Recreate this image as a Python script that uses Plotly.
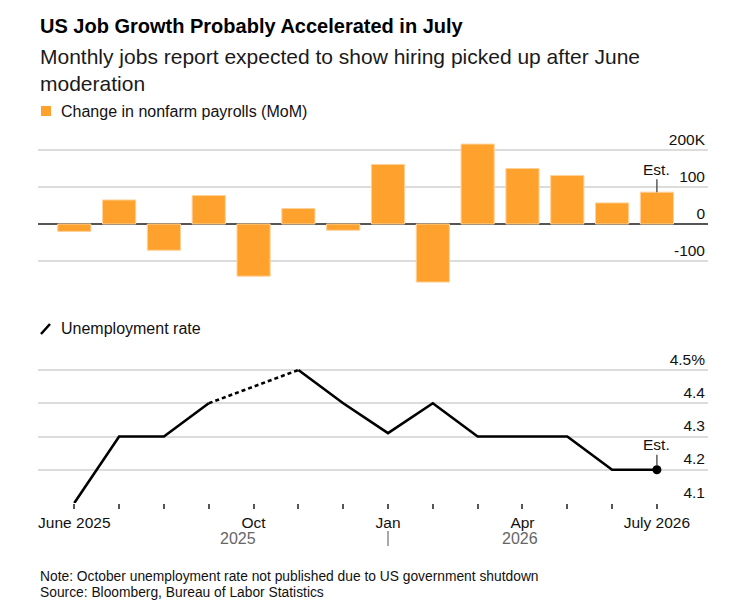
import plotly.graph_objects as go

MONTHS = ["Jun 2025", "Jul 2025", "Aug 2025", "Sep 2025", "Oct 2025", "Nov 2025", "Dec 2025",
          "Jan 2026", "Feb 2026", "Mar 2026", "Apr 2026", "May 2026", "Jun 2026", "Jul 2026"]
PAYROLLS = [-20, 65, -71, 77, -141, 42, -17, 161, -157, 216, 150, 131, 57, 86]     # thousands
UNEMP = [4.1, 4.3, 4.3, 4.4, None, 4.5, 4.4, 4.31, 4.4, 4.3, 4.3, 4.3, 4.2, 4.2]      # %
TICK_TEXT = {"Jun 2025": "June 2025", "Oct 2025": "Oct", "Jan 2026": "Jan",
             "Apr 2026": "Apr", "Jul 2026": "July 2026"}
BAR_TICKS = [-100, 0, 100, 200]
BAR_TICKTEXT = ["-100", "0", "100", "200K"]
RATE_TICKS = [4.1, 4.2, 4.3, 4.4, 4.5]
RATE_TICKTEXT = ["4.1", "4.2", "4.3", "4.4", "4.5%"]

W, H = 746, 615
OFF = 8            # page body margin of the html wrapper
FONT = "Liberation Sans, Arial, sans-serif"
ORANGE = "#ffa22d"
GRID = "#dcdcdc"
XR = [-0.81, 14.14]
PLOT_W = 670


def py(px):
    """pixel row of the screenshot -> paper y"""
    return 1 - (px - OFF) / H


def pxx(px):
    """pixel column of the screenshot -> paper x"""
    return (px - 38) / PLOT_W


fig = go.Figure()
fig.add_trace(go.Bar(x=MONTHS, y=PAYROLLS, marker=dict(color=ORANGE, line=dict(color="#ffd29a", width=1)),
                     xaxis="x", yaxis="y", showlegend=False, hoverinfo="x+y"))

# solid line with the October gap, plus a dotted bridge across it
fig.add_trace(go.Scatter(x=MONTHS, y=UNEMP, mode="lines", line=dict(color="#000", width=2.6),
                         connectgaps=False, xaxis="x2", yaxis="y2", showlegend=False))
gap = UNEMP.index(None)
fig.add_trace(go.Scatter(x=[MONTHS[gap - 1], MONTHS[gap + 1]], y=[UNEMP[gap - 1], UNEMP[gap + 1]],
                         mode="lines", line=dict(color="#000", width=2.6, dash="4px,3px"),
                         xaxis="x2", yaxis="y2", showlegend=False))
fig.add_trace(go.Scatter(x=[MONTHS[-1]], y=[UNEMP[-1]], mode="markers",
                         marker=dict(color="#000", size=9), xaxis="x2", yaxis="y2", showlegend=False))

tickfont = dict(family=FONT, size=15.5, color="#111")
fig.update_layout(
    width=W, height=H, paper_bgcolor="white", plot_bgcolor="white",
    margin=dict(l=38 - OFF, r=W - 708 + OFF, t=0, b=0), bargap=0.26, font=dict(family=FONT),
    xaxis=dict(type="category", range=XR, domain=[0, 1], showticklabels=False, showgrid=False,
               ticks="", anchor="y", fixedrange=True),
    yaxis=dict(domain=[py(288.75), py(129.65)], range=[-175, 255], side="right",
               tickvals=BAR_TICKS, ticktext=BAR_TICKTEXT, ticklabelposition="inside top",
               gridcolor=GRID, gridwidth=1.5, zeroline=True, zerolinecolor="#555", zerolinewidth=1.5,
               tickfont=tickfont, anchor="x", automargin=False),
    xaxis2=dict(type="category", range=XR, domain=[0, 1], anchor="y2", showgrid=False,
                tickvals=MONTHS, ticktext=[TICK_TEXT.get(m, "") for m in MONTHS],
                ticks="outside", ticklen=5, tickcolor="#555", tickwidth=1.5, tickfont=tickfont,
                showline=False, automargin=False),
    yaxis2=dict(domain=[py(503), py(350.05)], range=[4.1, 4.56], side="right", anchor="x2",
                tickvals=RATE_TICKS, ticktext=RATE_TICKTEXT, ticklabelposition="inside top",
                gridcolor=GRID, gridwidth=1.5, zeroline=False, tickfont=tickfont, automargin=False),
)

ann = [
    dict(text="<b>US Job Growth Probably Accelerated in July</b>", x=pxx(38), y=py(26),
         font=dict(size=20, color="#000")),
    dict(text="Monthly jobs report expected to show hiring picked up after June<br>moderation",
         x=pxx(38), y=py(70), font=dict(size=21, color="#1a1a1a")),
    dict(text="Change in nonfarm payrolls (MoM)", x=pxx(59), y=py(111), font=dict(size=16, color="#111")),
    dict(text="Unemployment rate", x=pxx(59), y=py(328), font=dict(size=16, color="#111")),
    dict(text="Note: October unemployment rate not published due to US government shutdown",
         x=pxx(38), y=py(576), font=dict(size=13.8, color="#111")),
    dict(text="Source: Bloomberg, Bureau of Labor Statistics", x=pxx(38), y=py(592),
         font=dict(size=13.8, color="#111")),
]
for a in ann:
    a.update(xref="paper", yref="paper", xanchor="left", yanchor="middle", showarrow=False, align="left")
    fig.add_annotation(**a)

# year labels under the month axis
for label, xpos in [("2025", 3.65), ("2026", 9.95)]:
    fig.add_annotation(text=label, x=xpos, y=py(538), xref="x2", yref="paper", showarrow=False,
                       font=dict(family=FONT, size=16, color="#666"), yanchor="middle")

# "Est." callouts
fig.add_annotation(text="Est.", x=MONTHS[-1], y=PAYROLLS[-1], xref="x", yref="y", showarrow=True,
                   arrowhead=0, arrowwidth=1.2, arrowcolor="#333", ax=0, ay=-23,
                   font=dict(family=FONT, size=15.5, color="#111"))
fig.add_annotation(text="Est.", x=MONTHS[-1], y=UNEMP[-1], xref="x2", yref="y2", showarrow=True,
                   arrowhead=0, arrowwidth=1.2, arrowcolor="#333", ax=0, ay=-25, standoff=4,
                   font=dict(family=FONT, size=15.5, color="#111"))

# legend glyphs and the year separator
fig.add_shape(type="rect", xref="paper", yref="paper", x0=pxx(41), x1=pxx(51), y0=py(116), y1=py(106),
              fillcolor=ORANGE, line=dict(width=0))
fig.add_shape(type="line", xref="paper", yref="paper", x0=pxx(41), x1=pxx(50), y0=py(334), y1=py(324),
              line=dict(color="#000", width=2.6))
fig.add_shape(type="line", xref="x2", yref="paper", x0=MONTHS[7], x1=MONTHS[7], y0=py(531), y1=py(546),
              line=dict(color="#555", width=1))

fig.write_html("out.html")
